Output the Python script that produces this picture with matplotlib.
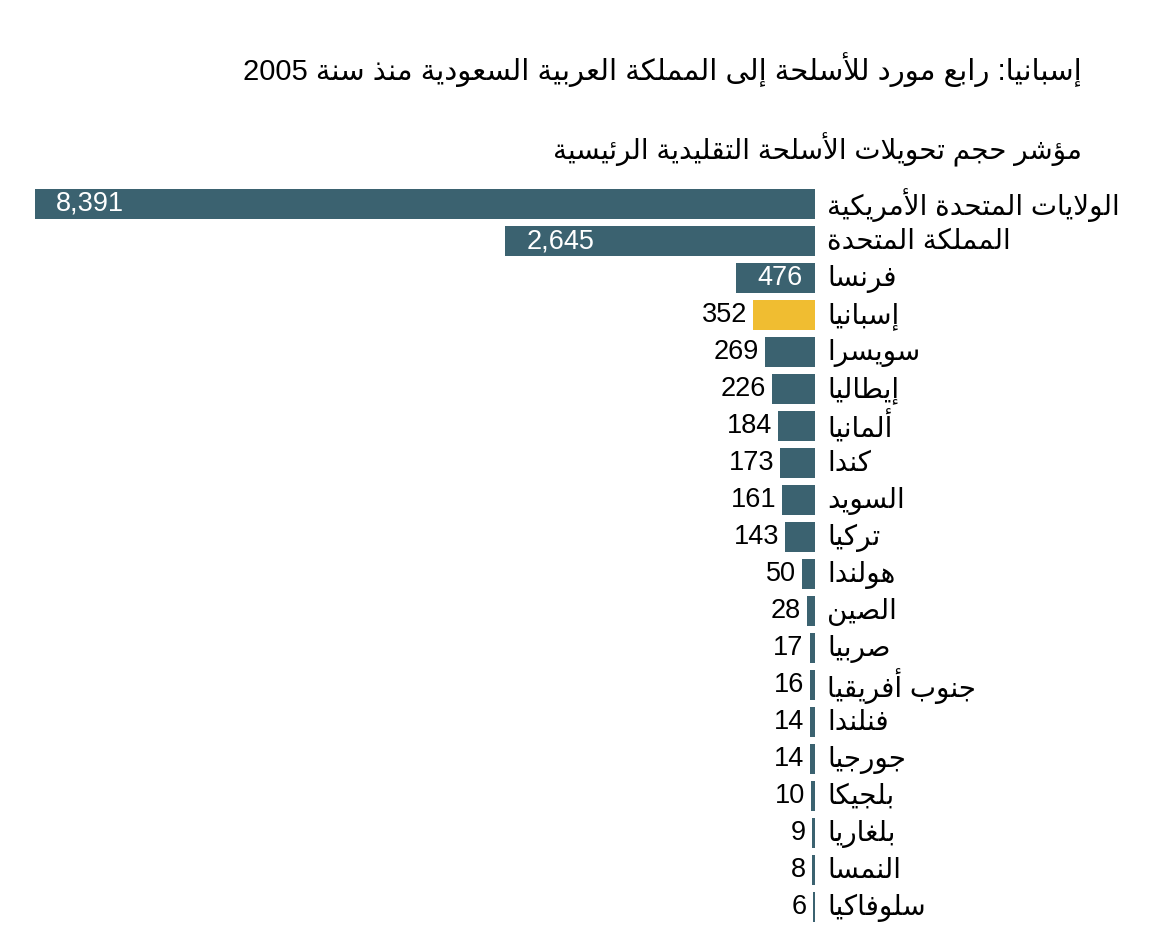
import re
import matplotlib
matplotlib.use("Agg")
import matplotlib.pyplot as plt
import numpy as np

countries = ["الولايات المتحدة الأمريكية", "المملكة المتحدة", "فرنسا", "إسبانيا",
             "سويسرا", "إيطاليا", "ألمانيا", "كندا", "السويد", "تركيا", "هولندا",
             "الصين", "صربيا", "جنوب أفريقيا", "فنلندا", "جورجيا", "بلجيكا",
             "بلغاريا", "النمسا", "سلوفاكيا"]
values = [8391, 2645, 476, 352, 269, 226, 184, 173, 161, 143, 50, 28, 17, 16,
          14, 14, 10, 9, 8, 6]
highlight = "إسبانيا"
title = "إسبانيا: رابع مورد للأسلحة إلى المملكة العربية السعودية منذ سنة 2005"
subtitle = "مؤشر حجم تحويلات الأسلحة التقليدية الرئيسية"

BLUE = "#3b6270"
YELLOW = "#f0bd31"
FONT = ["Liberation Sans", "DejaVu Sans"]

# matplotlib has no arabic shaping, so pick presentation forms by hand
ISO = {'ء': 0xFE80, 'آ': 0xFE81, 'أ': 0xFE83, 'ؤ': 0xFE85, 'إ': 0xFE87, 'ئ': 0xFE89,
       'ا': 0xFE8D, 'ب': 0xFE8F, 'ة': 0xFE93, 'ت': 0xFE95, 'ث': 0xFE99, 'ج': 0xFE9D,
       'ح': 0xFEA1, 'خ': 0xFEA5, 'د': 0xFEA9, 'ذ': 0xFEAB, 'ر': 0xFEAD, 'ز': 0xFEAF,
       'س': 0xFEB1, 'ش': 0xFEB5, 'ص': 0xFEB9, 'ض': 0xFEBD, 'ط': 0xFEC1, 'ظ': 0xFEC5,
       'ع': 0xFEC9, 'غ': 0xFECD, 'ف': 0xFED1, 'ق': 0xFED5, 'ك': 0xFED9, 'ل': 0xFEDD,
       'م': 0xFEE1, 'ن': 0xFEE5, 'ه': 0xFEE9, 'و': 0xFEED, 'ى': 0xFEEF, 'ي': 0xFEF1}
RIGHT_ONLY = set('آأؤإاةدذرزوى')
LAM_ALEF = {'آ': 0xFEF5, 'أ': 0xFEF7, 'إ': 0xFEF9, 'ا': 0xFEFB}


def ar(text):
    out = []
    prev_joins = False
    i = 0
    n = len(text)
    while i < n:
        c = text[i]
        if c not in ISO or c == 'ء':
            out.append(chr(ISO[c]) if c == 'ء' else c)
            prev_joins = False
            i += 1
            continue
        if c == 'ل' and i + 1 < n and text[i + 1] in LAM_ALEF:
            out.append(chr(LAM_ALEF[text[i + 1]] + (1 if prev_joins else 0)))
            prev_joins = False
            i += 2
            continue
        nxt = text[i + 1] if i + 1 < n else ''
        next_joins = c not in RIGHT_ONLY and nxt in ISO and nxt != 'ء'
        base = ISO[c]
        if prev_joins and next_joins:
            code = base + 3
        elif prev_joins:
            code = base + 1
        elif next_joins:
            code = base + 2
        else:
            code = base
        out.append(chr(code))
        prev_joins = next_joins
        i += 1
    vis = "".join(out)[::-1]
    return re.sub(r"[0-9A-Za-z.,]+", lambda m: m.group(0)[::-1], vis)


p = 0.8
fig = plt.figure(figsize=(11.64, 9.5), dpi=100)
ax = fig.add_axes([35 / 1164, 1 - 925.5 / 950, (815 - 35) / 1164, 740 / 950])

y = np.arange(len(values))
colors = [YELLOW if c == highlight else BLUE for c in countries]
ax.barh(y, values, height=0.81, color=colors)
ax.set_xscale("function", functions=(lambda v: np.power(np.clip(v, 0, None), p),
                                     lambda v: np.power(np.clip(v, 0, None), 1 / p)))
ax.set_xlim(max(values), 0)
ax.set_ylim(len(values) - 0.5, -0.5)
ax.axis("off")

for i, (c, v) in enumerate(zip(countries, values)):
    ax.annotate(ar(c), xy=(1, i), xycoords=ax.get_yaxis_transform(),
                xytext=(12, -1), textcoords="offset pixels", ha="left", va="center",
                fontsize=20, family=FONT)
    if i < 3:
        ax.annotate(f"{v:,}", xy=(v, i), xytext=(21, 0), textcoords="offset pixels",
                    ha="left", va="center", fontsize=19.5, color="white", family=FONT)
    else:
        ax.annotate(f"{v:,}", xy=(v, i), xytext=(-6, 0), textcoords="offset pixels",
                    ha="right", va="center", fontsize=19.5, color="black", family=FONT)

fig.text(1082 / 1164, 1 - 70 / 950, ar(title), ha="right", va="center",
         fontsize=21, family=FONT)
fig.text(1082 / 1164, 1 - 150 / 950, ar(subtitle), ha="right", va="center",
         fontsize=20, family=FONT)

fig.savefig("out.png", dpi=100)
